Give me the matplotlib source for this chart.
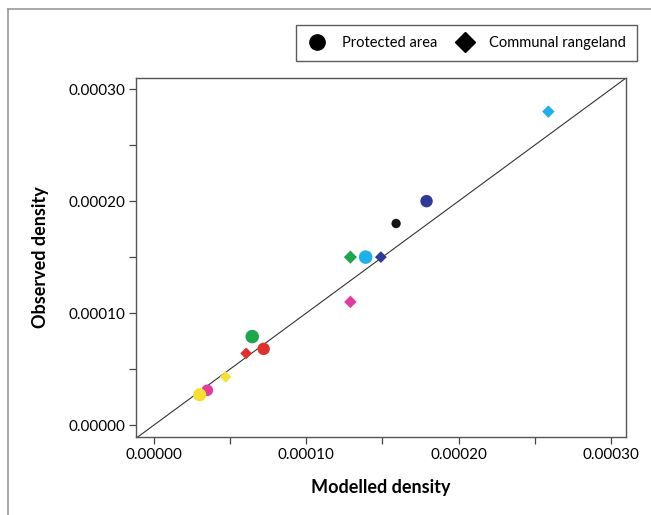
import matplotlib
matplotlib.use("Agg")
from matplotlib import pyplot as plt
from matplotlib.lines import Line2D

plt.rcParams['font.family'] = ['Lato', 'DejaVu Sans']

# modelled vs observed density per site
habitat = ['PA', 'PA', 'CR', 'CR', 'PA', 'CR', 'CR', 'PA', 'PA', 'CR', 'CR', 'PA', 'PA']
modelled = [0.000159, 0.000179, 0.000259, 0.000129, 0.000139, 0.000149, 0.000129,
            0.0000645, 0.000072, 0.0000605, 0.000047, 0.000035, 0.000030]
observed = [0.000180, 0.000200, 0.000280, 0.000150, 0.000150, 0.000150, 0.000110,
            0.000079, 0.000068, 0.000064, 0.000043, 0.000031, 0.000027]

# styling per point
colors = ['#151515', '#2e3a98', '#1db0ea', '#1ea64c', '#1db0ea', '#2e3a98', '#e23a9e',
          '#1ea64c', '#e0312c', '#e0312c', '#f5df3a', '#e23a9e', '#f7df2e']
sizes = [45, 80, 45, 50, 95, 40, 45, 95, 80, 40, 40, 70, 90]

fig = plt.figure(figsize=(6.51, 5.15), dpi=100)
ax = fig.add_axes([0.209, 0.1515, 0.7526, 0.697])

lo, hi = -0.0000118, 0.00031
ax.plot([lo, hi], [lo, hi], color='#333333', lw=0.8, zorder=1)

for h, x, y, c, s in zip(habitat, modelled, observed, colors, sizes):
    ax.scatter(x, y, s=s if h == 'PA' else s * 0.9, c=c, marker='o' if h == 'PA' else 'D',
               edgecolors='none', zorder=3)

ax.set_xlim(lo, hi)
ax.set_ylim(-0.0000107, 0.00031)
ticks = [0, 0.00005, 0.0001, 0.00015, 0.0002, 0.00025, 0.0003]
labels = ['0.00000', '', '0.00010', '', '0.00020', '', '0.00030']
ax.set_xticks(ticks)
ax.set_xticklabels(labels)
ax.set_yticks(ticks)
ax.set_yticklabels(labels)
ax.tick_params(direction='out', length=5, width=0.9, color='#444444', labelsize=11, pad=3)
for sp in ax.spines.values():
    sp.set_color('#555555')
    sp.set_linewidth(1.0)

ax.set_xlabel('Modelled density', fontsize=13, fontweight='bold', labelpad=12)
ax.set_ylabel('Observed density', fontsize=13, fontweight='bold', labelpad=14)

handles = [
    Line2D([], [], marker='o', color='black', ls='none', markersize=11, label='Protected area'),
    Line2D([], [], marker='D', color='black', ls='none', markersize=10, label='Communal rangeland'),
]
fig.legend(handles=handles, loc='upper right', bbox_to_anchor=(0.990, 0.966), ncol=2,
           frameon=True, fancybox=False, edgecolor='#333333', fontsize=10.5,
           handletextpad=0.9, columnspacing=1.2, borderpad=0.75, handlelength=1.5)

# outer frame (cropped panel border)
fx = 8 / 651
fy = 1 - 9 / 515
fig.add_artist(Line2D([fx, 1], [fy, fy], transform=fig.transFigure, color='#999999', lw=1.2))
fig.add_artist(Line2D([fx, fx], [0, fy], transform=fig.transFigure, color='#999999', lw=1.2))

fig.savefig('out.png', dpi=100)
